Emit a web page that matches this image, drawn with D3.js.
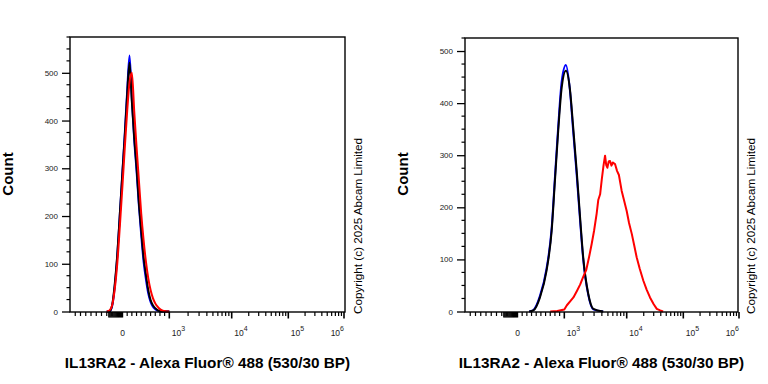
<!DOCTYPE html>
<html>
<head>
<meta charset="utf-8">
<title>IL13RA2 - Alexa Fluor 488 histograms</title>
<script src="https://cdn.jsdelivr.net/npm/d3@7"></script>
<style>
	body { margin: 0; background: #fff; }
	svg text { font-family: "Liberation Sans", Arial, sans-serif; }
</style>
</head>
<body>
<svg id="chart" width="768" height="384"></svg>
<script>
// ---- data ----
// left panel: fluorescence value grid and counts per series
const leftBins  = [-300, -250, -200, -150, -100, -50, 0, 50, 100, 150, 200, 250, 300, 350, 400, 450, 500, 550, 600, 650, 700, 750, 800, 850, 900, 950, 1000];
const leftBlue  = [0, 0, 10, 50, 115, 205, 295, 375, 462, 536, 445, 360, 295, 222, 160, 105, 68, 38, 20, 10, 5, 2, 0, 0, 0, 0, 0];
const leftBlack = [0, 0, 12, 55, 118, 205, 293, 370, 455, 521, 440, 365, 303, 228, 170, 115, 78, 45, 24, 13, 7, 3, 1, 0, 0, 0, 0];
const leftRed   = [0, 2, 12, 45, 100, 180, 265, 345, 420, 480, 500, 420, 345, 275, 205, 150, 105, 70, 45, 28, 17, 10, 5, 2, 1, 0, 0];

// right panel: control (blue / black) and stained (red)
const rightCtrlBins = [250, 340, 480, 620, 730, 800, 870, 945, 1060, 1230, 1390, 1580, 1790, 2010, 2420, 2920, 4200];
const rightBlue     = [0, 3, 30, 82, 160, 258, 355, 442, 473, 425, 345, 262, 175, 100, 32, 4, 0];
const rightBlack    = [0, 2, 27, 78, 155, 251, 347, 430, 462, 427, 353, 270, 181, 104, 34, 5, 0];
const rightRedBins  = [700, 850, 1000, 1100, 1250, 1400, 1600, 1800, 2000, 2250, 2500, 2750, 3000, 3300, 3500, 3750, 4000, 4250, 4500, 4700, 4900, 5150, 5400, 5700, 6000, 6500, 7000, 7500, 8300, 9000, 10000, 11000, 12300, 13500, 15000, 17000, 19700, 22500, 25800, 30000, 34000, 39000, 44000];
const rightRed      = [0, 1, 4, 12, 20, 27, 40, 52, 66, 80, 105, 130, 155, 188, 214, 225, 255, 280, 299, 281, 276, 288, 289, 280, 286, 283, 270, 262, 232, 215, 193, 170, 149, 128, 104, 82, 59, 42, 27, 14, 5, 2, 0];

const yTickValues = [0, 100, 200, 300, 400, 500];
const xTickValues = [0, 1e3, 1e4, 1e5, 1e6];
const xTickBase   = ['0', '10', '10', '10', '10'];
const xTickExp    = ['', '3', '4', '5', '6'];

const xTitle = 'IL13RA2 - Alexa Fluor® 488 (530/30 BP)';
const yTitle = 'Count';
const copyright = 'Copyright (c) 2025 Abcam Limited';

// ---- drawing ----
const svg = d3.select('#chart');

// linear around zero, log above 10^3 (biexponential style display)
function tf(v) {
	let a = Math.abs(v);
	if (a <= 1000) return v / 1000;
	return Math.sign(v) * (1 + Math.log10(a / 1000));
}

function drawPanel(p) {
	let g = svg.append('g');

	let xs = d3.scaleLinear()
		.domain([-1, 0, 1, 2, 3, 4])
		.range([0, 52.5, 99.3, 161.7, 218.3, 274].map(o => p.x0 + o));
	let x = v => xs(tf(v));
	let y = d3.scaleLinear().domain([0, p.yMax]).range([p.yBottom - 0.5, p.yTop]);

	// curves
	p.series.forEach(s => {
		let pts = s.bins.map((b, i) => [b, s.counts[i]]);
		g.append('path')
			.datum(pts)
			.attr('d', d3.line().x(d => x(d[0])).y(d => y(d[1])).curve(s.curve))
			.style('fill', 'none')
			.style('stroke', s.color)
			.style('stroke-width', '2px')
			.style('stroke-linejoin', 'round');
	});

	// frame
	g.append('rect')
		.attr('x', p.x0).attr('y', p.yTop)
		.attr('width', p.x1 - p.x0).attr('height', p.yBottom - p.yTop)
		.style('fill', 'none').style('stroke', '#000').style('stroke-width', '1.4px');

	// y axis: major every 100, minor every 25
	let yAxis = d3.axisLeft(y).tickValues(yTickValues).tickSize(8).tickPadding(4).tickFormat(d3.format('d'));
	let ya = g.append('g').attr('transform', 'translate(' + p.x0 + ',0)').call(yAxis);
	ya.select('.domain').remove();
	ya.selectAll('text').style('font-size', '8px').style('fill', '#222');
	ya.selectAll('line').style('stroke-width', '1.3px');
	let yMinor = d3.range(25, p.yMax + 1, 25).filter(v => v % 100 != 0);
	g.selectAll(null).data(yMinor).enter().append('line')
		.attr('x1', p.x0 - 3.5).attr('x2', p.x0)
		.attr('y1', d => y(d)).attr('y2', d => y(d))
		.style('stroke', '#000').style('stroke-width', '1.2px');

	// x axis ticks
	let minor = d3.range(-900, 0, 100).concat(d3.range(100, 1000, 100));
	[1e3, 1e4, 1e5].forEach(dec => { for (let m = 2; m <= 9; m++) minor.push(m * dec); });
	let dense = d3.range(-260, 1, 20);
	let gx = g.append('g');
	gx.selectAll('line.minor').data(minor).enter().append('line')
		.attr('class', 'minor')
		.attr('x1', d => x(d)).attr('x2', d => x(d))
		.attr('y1', p.yBottom).attr('y2', p.yBottom + 4)
		.style('stroke', '#000').style('stroke-width', '1.2px');
	gx.selectAll('line.dense').data(dense).enter().append('line')
		.attr('class', 'dense')
		.attr('x1', d => x(d)).attr('x2', d => x(d))
		.attr('y1', p.yBottom).attr('y2', p.yBottom + 5.5)
		.style('stroke', '#000').style('stroke-width', '1.4px');
	gx.selectAll('line.major').data(xTickValues.slice(1)).enter().append('line')
		.attr('class', 'major')
		.attr('x1', d => x(d)).attr('x2', d => x(d))
		.attr('y1', p.yBottom).attr('y2', p.yBottom + 6.5)
		.style('stroke', '#000').style('stroke-width', '1.6px');

	// x tick labels
	xTickValues.forEach((v, i) => {
		let last = i == xTickValues.length - 1;
		let t = gx.append('text')
			.attr('x', i == 0 ? x(v) : (last ? x(v) : x(v) + 2.5))
			.attr('y', p.yBottom + 24)
			.attr('text-anchor', i == 0 ? 'middle' : (last ? 'end' : 'start'))
			.style('font-size', '8.5px').style('fill', '#222');
		t.append('tspan').text(xTickBase[i]);
		if (xTickExp[i]) t.append('tspan').attr('dy', -5).style('font-size', '7px').text(xTickExp[i]);
	});

	// titles
	g.append('text')
		.attr('x', (p.x0 + p.x1) / 2).attr('y', 368)
		.attr('text-anchor', 'middle')
		.style('font-size', '15.3px').style('font-weight', 'bold')
		.text(xTitle);
	g.append('text')
		.attr('transform', 'translate(' + (p.x0 - 57.3) + ',174) rotate(-90)')
		.attr('text-anchor', 'middle')
		.style('font-size', '15px').style('font-weight', 'bold')
		.text(yTitle);
	g.append('text')
		.attr('transform', 'translate(' + (p.x1 + 16.5) + ',314) rotate(-90)')
		.attr('text-anchor', 'start')
		.style('font-size', '11.7px')
		.text(copyright);
}

drawPanel({
	x0: 70, x1: 345, yTop: 37, yBottom: 312, yMax: 575,
	series: [
		{ bins: leftBins, counts: leftBlue, color: '#0000ff', curve: d3.curveMonotoneX },
		{ bins: leftBins, counts: leftBlack, color: '#000000', curve: d3.curveMonotoneX },
		{ bins: leftBins, counts: leftRed, color: '#ff0000', curve: d3.curveMonotoneX }
	]
});

drawPanel({
	x0: 465, x1: 738, yTop: 38, yBottom: 312, yMax: 525,
	series: [
		{ bins: rightCtrlBins, counts: rightBlue, color: '#0000ff', curve: d3.curveMonotoneX },
		{ bins: rightCtrlBins, counts: rightBlack, color: '#000000', curve: d3.curveMonotoneX },
		{ bins: rightRedBins, counts: rightRed, color: '#ff0000', curve: d3.curveLinear }
	]
});
</script>
</body>
</html>
